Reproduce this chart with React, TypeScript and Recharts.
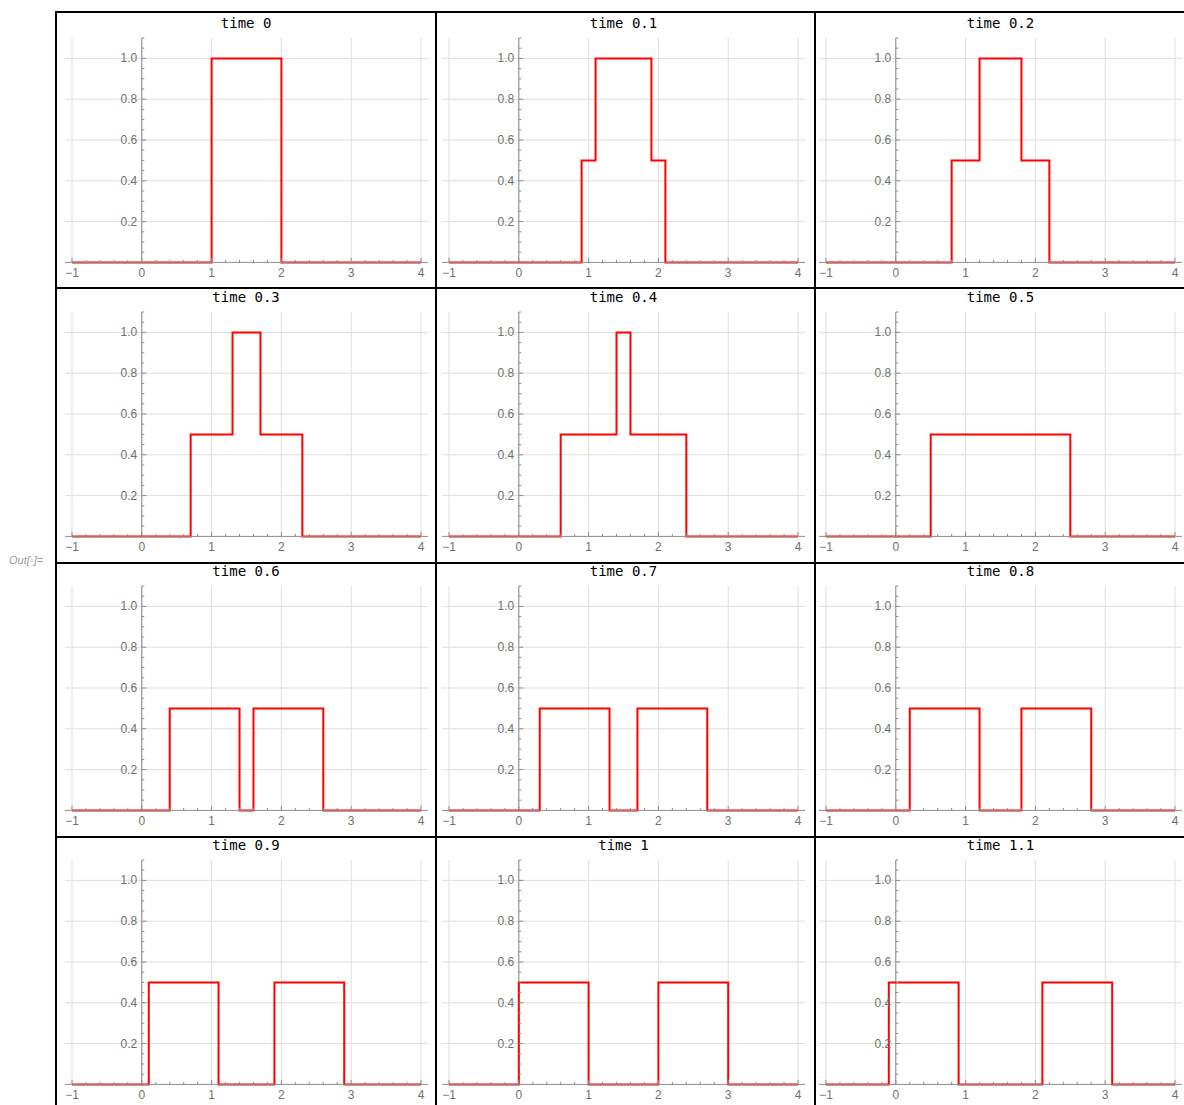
import React from "react";
import {
  LineChart,
  Line,
  XAxis,
  YAxis,
  CartesianGrid,
  ReferenceLine,
  ReferenceDot,
} from "recharts";

// panel titles, read left-to-right, top-to-bottom
const panelTimes = ["0", "0.1", "0.2", "0.3", "0.4", "0.5", "0.6", "0.7", "0.8", "0.9", "1", "1.1"];

// step breakpoints (x) and the level that starts at each breakpoint
const panelEdges = [
  [-1, 1, 2, 4],
  [-1, 0.9, 1.1, 1.9, 2.1, 4],
  [-1, 0.8, 1.2, 1.8, 2.2, 4],
  [-1, 0.7, 1.3, 1.7, 2.3, 4],
  [-1, 0.6, 1.4, 1.6, 2.4, 4],
  [-1, 0.5, 2.5, 4],
  [-1, 0.4, 1.4, 1.6, 2.6, 4],
  [-1, 0.3, 1.3, 1.7, 2.7, 4],
  [-1, 0.2, 1.2, 1.8, 2.8, 4],
  [-1, 0.1, 1.1, 1.9, 2.9, 4],
  [-1, 0, 1, 2, 3, 4],
  [-1, -0.1, 0.9, 2.1, 3.1, 4],
];
const panelLevels = [
  [0, 1, 0, 0],
  [0, 0.5, 1, 0.5, 0, 0],
  [0, 0.5, 1, 0.5, 0, 0],
  [0, 0.5, 1, 0.5, 0, 0],
  [0, 0.5, 1, 0.5, 0, 0],
  [0, 0.5, 0, 0],
  [0, 0.5, 0, 0.5, 0, 0],
  [0, 0.5, 0, 0.5, 0, 0],
  [0, 0.5, 0, 0.5, 0, 0],
  [0, 0.5, 0, 0.5, 0, 0],
  [0, 0.5, 0, 0.5, 0, 0],
  [0, 0.5, 0, 0.5, 0, 0],
];

const xMajorTicks = [-1, 0, 1, 2, 3, 4];
const xAllTicks = [
  -1, -0.8, -0.6, -0.4, -0.2, 0, 0.2, 0.4, 0.6, 0.8, 1, 1.2, 1.4, 1.6, 1.8,
  2, 2.2, 2.4, 2.6, 2.8, 3, 3.2, 3.4, 3.6, 3.8, 4,
];
const yMajorTicks = [0.2, 0.4, 0.6, 0.8, 1.0];
const yTickLabels = ["0.2", "0.4", "0.6", "0.8", "1.0"];
const yMinorTicks = [
  0.05, 0.1, 0.15, 0.25, 0.3, 0.35, 0.45, 0.5, 0.55, 0.65, 0.7, 0.75, 0.85,
  0.9, 0.95, 1.05, 1.1,
];

// layout (px)
const colPlotLeft = [64.6, 442, 819];
const rowZeroY = [262, 536, 810, 1084];
const PLOT_W = 363;
const PLOT_H = 224.4;
const M_TOP = 30;
const M_SIDE = 4;
const X_AXIS_H = 20;

const AXIS = "#8c8c8c";
const LABEL = "#707070";
const GRID = "#dedede";
const RED = "#ff0000";
const TICK_FONT = "'Liberation Sans', Arial, sans-serif";
const TICK_SIZE = 12;

function XTick(props: any) {
  const { x, y, payload } = props;
  const v = payload.value;
  const major = xMajorTicks.includes(v);
  const label = major ? (v < 0 ? `\u2212${-v}` : `${v}`) : null;
  return (
    <g>
      <line x1={x} x2={x} y1={y} y2={y - (major ? 4.5 : 2.5)} stroke={AXIS} strokeWidth={1} />
      {label && (
        <text x={x} y={y + 15} textAnchor="middle" fill={LABEL} fontSize={TICK_SIZE} fontFamily={TICK_FONT}>
          {label}
        </text>
      )}
    </g>
  );
}

const yTickShape = (label: string | null, major: boolean) => (p: any) => (
  <g>
    <line x1={p.cx} x2={p.cx + (major ? 4.5 : 2.5)} y1={p.cy} y2={p.cy} stroke={AXIS} strokeWidth={1} />
    {label && (
      <text x={p.cx - 4.5} y={p.cy + 4} textAnchor="end" fill={LABEL} fontSize={TICK_SIZE} fontFamily={TICK_FONT}>
        {label}
      </text>
    )}
  </g>
);

function Panel({ index }: { index: number }) {
  const col = index % 3;
  const row = Math.floor(index / 3);
  const plotLeft = colPlotLeft[col];
  const zeroY = rowZeroY[row];
  const data = panelEdges[index].map((x, i) => ({ x, u: panelLevels[index][i] }));

  return (
    <>
      <div
        style={{
          position: "absolute",
          left: plotLeft,
          width: PLOT_W,
          top: zeroY - 239.5 - 8,
          lineHeight: "16px",
          textAlign: "center",
          fontFamily: "'DejaVu Sans Mono', monospace",
          fontSize: 14,
          color: "#000",
        }}
      >
        time {panelTimes[index]}
      </div>
      <div
        style={{
          position: "absolute",
          left: plotLeft - M_SIDE,
          top: zeroY - PLOT_H - M_TOP,
        }}
      >
        <LineChart
          width={PLOT_W + 2 * M_SIDE}
          height={M_TOP + PLOT_H + X_AXIS_H}
          data={data}
          margin={{ top: M_TOP, right: M_SIDE, bottom: 0, left: M_SIDE }}
        >
          <CartesianGrid
            stroke={GRID}
            horizontalValues={yMajorTicks}
            verticalValues={xMajorTicks}
          />
          <ReferenceLine x={0} stroke={AXIS} strokeWidth={1} />
          {yMinorTicks.map((v) => (
            <ReferenceDot key={`m${v}`} x={0} y={v} r={0} shape={yTickShape(null, false)} />
          ))}
          {yMajorTicks.map((v, i) => (
            <ReferenceDot key={`M${v}`} x={0} y={v} r={0} shape={yTickShape(yTickLabels[i], true)} />
          ))}
          <XAxis
            type="number"
            dataKey="x"
            domain={[-1.1, 4.1]}
            ticks={xAllTicks}
            interval={0}
            tickLine={false}
            tickSize={0}
            tickMargin={0}
            height={X_AXIS_H}
            axisLine={{ stroke: AXIS }}
            tick={<XTick />}
          />
          <YAxis type="number" domain={[0, 1.1]} hide />
          <Line
            type="stepAfter"
            dataKey="u"
            stroke={RED}
            strokeWidth={2}
            dot={false}
            isAnimationActive={false}
          />
        </LineChart>
      </div>
    </>
  );
}

const vLines = [55, 435, 814];
const hLines = [11, 287, 562, 836];

export default function App() {
  return (
    <div
      style={{
        position: "absolute",
        left: 0,
        top: 0,
        width: 1184,
        height: 1105,
        overflow: "hidden",
        background: "#fff",
      }}
    >
      {panelTimes.map((_, i) => (
        <Panel key={i} index={i} />
      ))}
      {vLines.map((x) => (
        <div key={`v${x}`} style={{ position: "absolute", left: x, top: 11, width: 2, height: 1105, background: "#000" }} />
      ))}
      {hLines.map((y) => (
        <div key={`h${y}`} style={{ position: "absolute", left: 55, top: y, width: 1140, height: 2, background: "#000" }} />
      ))}
      <div
        style={{
          position: "absolute",
          left: 9,
          top: 554,
          fontFamily: "'Liberation Sans', Arial, sans-serif",
          fontStyle: "italic",
          fontSize: 11,
          color: "#9a9a9a",
        }}
      >
        Out[{"\u25e6"}]=
      </div>
    </div>
  );
}
